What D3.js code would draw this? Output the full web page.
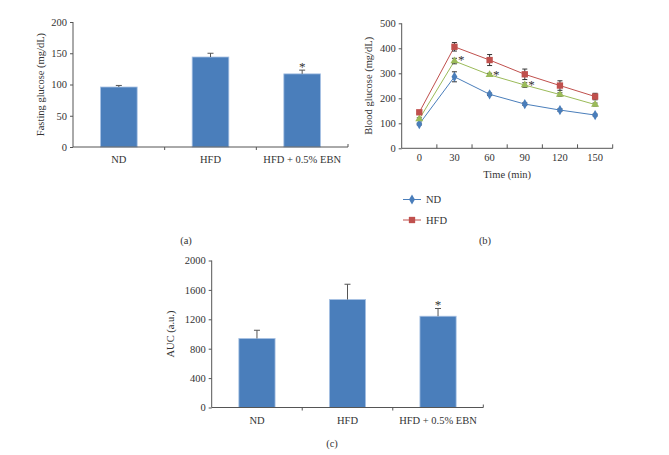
<!DOCTYPE html>
<html>
<head>
<meta charset="utf-8">
<script src="https://cdn.jsdelivr.net/npm/d3@7"></script>
<style>
  body { margin: 0; background: #fff; }
  svg text { font-family: "Liberation Serif", "Times New Roman", serif; font-size: 10.5px; fill: #333; }
  .domain, .tick line { stroke: #555; }
  .star { font-size: 13px; }
</style>
</head>
<body>
<svg id="fig" width="669" height="455"></svg>
<script>
/* Data */

var groups = ['ND', 'HFD', 'HFD + 0.5% EBN'];

// (a) fasting glucose
var fastMean = [96, 144, 117],
    fastErr = [2.5, 6, 6],
    fastSig = [false, false, true],
    fastTicks = [0, 50, 100, 150, 200];

// (b) OGTT
var times = ['0', '30', '60', '90', '120', '150'];
var ndCurve = [97, 286, 216, 177, 153, 133],
    ndErr = [4, 20, 5, 5, 5, 4],
    hfdCurve = [144, 406, 353, 296, 251, 207],
    hfdErr = [5, 17, 22, 21, 19, 13],
    ebnCurve = [117, 349, 294, 253, 215, 175],
    ebnErr = [5, 11, 6, 9, 7, 6],
    ebnSig = [false, true, true, true, false, false],
    ogttTicks = [0, 100, 200, 300, 400, 500];

// (c) AUC
var aucMean = [939, 1469, 1242],
    aucErr = [112, 208, 105],
    aucSig = [false, false, true],
    aucTicks = [0, 400, 800, 1200, 1600, 2000];

var blue = '#4A7EBB', red = '#C0504D', green = '#9BBB59';

var svg = d3.select('#fig');

/* Bar panel helper */

function barPanel(o) {
    var x = d3.scaleBand().domain(groups).range([o.x0, o.x1]).paddingInner(0).paddingOuter(0);
    var y = d3.scaleLinear().domain([0, o.max]).range([o.y0, o.y1]);
    var g = svg.append('g');
    var bw = x.bandwidth() * 0.4;

    g.selectAll('rect.bar').data(groups).enter().append('rect')
        .attr('x', function (d) { return x(d) + x.bandwidth() / 2 - bw / 2; })
        .attr('y', function (d, i) { return y(o.mean[i]); })
        .attr('width', bw)
        .attr('height', function (d, i) { return y(0) - y(o.mean[i]); })
        .attr('fill', blue).attr('stroke', '#a8c2e4').attr('stroke-width', 0.8);

    // error bars (upper only)
    g.selectAll('g.err').data(groups).enter().append('g').each(function (d, i) {
        var cx = x(d) + x.bandwidth() / 2;
        var s = d3.select(this);
        s.append('line').attr('x1', cx).attr('x2', cx)
            .attr('y1', y(o.mean[i])).attr('y2', y(o.mean[i] + o.err[i]))
            .attr('stroke', '#555');
        s.append('line').attr('x1', cx - 3).attr('x2', cx + 3)
            .attr('y1', y(o.mean[i] + o.err[i])).attr('y2', y(o.mean[i] + o.err[i]))
            .attr('stroke', '#555');
        if (o.sig[i]) {
            s.append('text').attr('class', 'star').attr('x', cx).attr('y', y(o.mean[i] + o.err[i]) + 1)
                .attr('text-anchor', 'middle').text('*');
        }
    });

    // y axis
    var ya = g.append('g').attr('transform', 'translate(' + o.x0 + ',0)')
        .call(d3.axisLeft(y).tickValues(o.ticks).tickFormat(d3.format('d')).tickSize(3).tickPadding(3));
    ya.select('.domain').attr('d', 'M0,' + y(0) + 'V' + y(o.max));
    ya.attr('font-family', null).attr('font-size', null);

    // x axis
    g.append('line').attr('x1', o.x0).attr('x2', o.x1).attr('y1', o.y0).attr('y2', o.y0).attr('stroke', '#555');
    groups.slice(1).forEach(function (d) {
        g.append('line').attr('x1', x(d)).attr('x2', x(d)).attr('y1', o.y0).attr('y2', o.y0 + 3).attr('stroke', '#555');
    });
    g.append('line').attr('x1', o.x1).attr('x2', o.x1).attr('y1', o.y0).attr('y2', o.y0 - 3).attr('stroke', '#555');
    g.selectAll('text.cat').data(groups).enter().append('text')
        .attr('x', function (d) { return x(d) + x.bandwidth() / 2; })
        .attr('y', o.y0 + 16)
        .attr('text-anchor', 'middle').text(function (d) { return d; });

    g.append('text')
        .attr('transform', 'translate(' + o.titleX + ',' + (o.y0 + y(o.max)) / 2 + ') rotate(-90)')
        .attr('text-anchor', 'middle').text(o.title);
    g.append('text').attr('x', o.capX).attr('y', o.capY).attr('text-anchor', 'middle').text(o.cap);
}

barPanel({ x0: 73, x1: 348, y0: 147, y1: 22, max: 200, mean: fastMean, err: fastErr, sig: fastSig,
    ticks: fastTicks, title: 'Fasting glucose (mg/dL)', titleX: 44, cap: '(a)', capX: 186, capY: 244 });

barPanel({ x0: 211.7, x1: 483.3, y0: 407.5, y1: 260.5, max: 2000, mean: aucMean, err: aucErr, sig: aucSig,
    ticks: aucTicks, title: 'AUC (a.u.)', titleX: 174, cap: '(c)', capX: 332, capY: 447 });

/* (b) line panel */

(function () {
    var x0 = 401.7, x1 = 612.7, y0 = 148.3, y1 = 23.3;
    var x = d3.scaleBand().domain(times).range([x0, x1]);
    var y = d3.scaleLinear().domain([0, 500]).range([y0, y1]);
    var g = svg.append('g');
    var cx = function (d) { return x(d) + x.bandwidth() / 2; };

    var ya = g.append('g').attr('transform', 'translate(' + x0 + ',0)')
        .call(d3.axisLeft(y).tickValues(ogttTicks).tickFormat(d3.format('d')).tickSize(3).tickPadding(3));
    ya.select('.domain').attr('d', 'M0,' + y0 + 'V' + y1);
    ya.attr('font-family', null).attr('font-size', null);

    g.append('line').attr('x1', x0).attr('x2', x1).attr('y1', y0).attr('y2', y0).attr('stroke', '#555');
    times.slice(1).concat(['end']).forEach(function (d) {
        var px = d === 'end' ? x1 : x(d);
        g.append('line').attr('x1', px).attr('x2', px).attr('y1', y0).attr('y2', y0 - 4).attr('stroke', '#555');
    });
    g.selectAll('text.cat').data(times).enter().append('text')
        .attr('x', cx).attr('y', y0 + 13).attr('text-anchor', 'middle').text(function (d) { return d; });

    g.append('text').attr('x', (x0 + x1) / 2).attr('y', 178).attr('text-anchor', 'middle').text('Time (min)');
    g.append('text').attr('transform', 'translate(372,' + (y0 + y1) / 2 + ') rotate(-90)')
        .attr('text-anchor', 'middle').text('Blood glucose (mg/dL)');

    var line = d3.line().x(function (d, i) { return cx(times[i]); }).y(function (d) { return y(d); });

    var series = [
        { v: ndCurve, e: ndErr, c: blue, sym: d3.symbolDiamond, size: 30 },
        { v: ebnCurve, e: ebnErr, c: green, sym: d3.symbolTriangle, size: 28 },
        { v: hfdCurve, e: hfdErr, c: red, sym: d3.symbolSquare, size: 40 }
    ];

    series.forEach(function (s) {
        g.append('path').datum(s.v).attr('d', line).attr('fill', 'none').attr('stroke', s.c).attr('stroke-width', 1);
    });
    series.forEach(function (s) {
        s.v.forEach(function (v, i) {
            var px = cx(times[i]);
            g.append('line').attr('x1', px).attr('x2', px).attr('y1', y(v - s.e[i])).attr('y2', y(v + s.e[i])).attr('stroke', '#333');
            [v - s.e[i], v + s.e[i]].forEach(function (w) {
                g.append('line').attr('x1', px - 2.5).attr('x2', px + 2.5).attr('y1', y(w)).attr('y2', y(w)).attr('stroke', '#333');
            });
            g.append('path').attr('d', d3.symbol().type(s.sym).size(s.size))
                .attr('transform', 'translate(' + px + ',' + y(v) + ')').attr('fill', s.c);
        });
    });
    ebnCurve.forEach(function (v, i) {
        if (ebnSig[i]) {
            g.append('text').attr('class', 'star').attr('x', cx(times[i]) + 3.5).attr('y', y(v + ebnErr[i]) + 6).text('*');
        }
    });

    // legend
    var leg = [{ n: 'ND', c: blue, sym: d3.symbolDiamond, size: 30 }, { n: 'HFD', c: red, sym: d3.symbolSquare, size: 40 }];
    leg.forEach(function (l, i) {
        var ly = 199.5 + i * 20.5;
        g.append('line').attr('x1', 403).attr('x2', 421).attr('y1', ly).attr('y2', ly).attr('stroke', l.c);
        g.append('path').attr('d', d3.symbol().type(l.sym).size(l.size))
            .attr('transform', 'translate(412,' + ly + ')').attr('fill', l.c);
        g.append('text').attr('x', 426).attr('y', ly + 3.5).text(l.n);
    });

    g.append('text').attr('x', 485).attr('y', 244).attr('text-anchor', 'middle').text('(b)');
})();
</script>
</body>
</html>
